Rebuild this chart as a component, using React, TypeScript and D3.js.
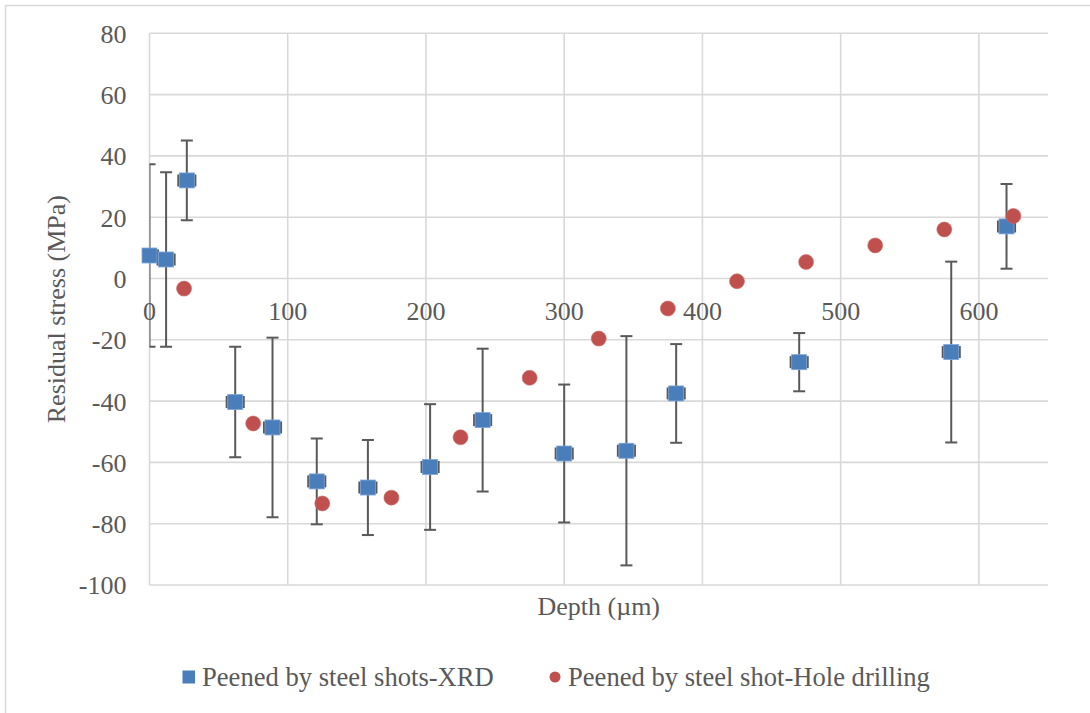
import React from "react";
import * as d3 from "d3";

// XRD series (blue squares) with vertical and horizontal error bars
const xrdDepth = [0, 12, 27, 62, 89, 121, 158, 203, 241, 300, 345, 381, 470, 580, 620];
const xrdStress = [7.5, 6.2, 32.0, -40.3, -48.6, -66.2, -68.2, -61.5, -46.2, -57.1, -56.2, -37.5, -27.3, -24.0, 17.0];
const xrdStressErr = [29.8, 28.5, 13.0, 18.0, 29.3, 14.0, 15.5, 20.5, 23.3, 22.5, 37.4, 16.1, 9.5, 29.5, 13.8];
const xrdDepthErr = [6, 6, 6, 6, 6, 6, 6, 6, 6, 6, 6, 6, 6, 6, 6];

// Hole drilling series (red circles)
const holeDepth = [25, 75, 125, 175, 225, 275, 325, 375, 425, 475, 525, 575, 625];
const holeStress = [-3.3, -47.3, -73.4, -71.5, -51.8, -32.4, -19.6, -9.8, -0.9, 5.4, 10.8, 16.0, 20.4];

const xTickValues = [0, 100, 200, 300, 400, 500, 600];
const yTickValues = [-100, -80, -60, -40, -20, 0, 20, 40, 60, 80];

const seriesNames = ["Peened by steel shots-XRD", "Peened by steel shot-Hole drilling"];
const xTitle = "Depth (µm)";
const yTitle = "Residual stress (MPa)";

const FONT = '"Times New Roman", "Liberation Serif", serif';
const TEXT = "#595959";
const GRID = "#d9d9d9";
const ERR = "#595959";
const BLUE = "#4a7ebb";
const RED = "#c0504d";

export default function App() {
  const W = 1090;
  const H = 713;
  const x = d3.scaleLinear().domain([0, 650]).range([149.5, 1048]);
  const y = d3.scaleLinear().domain([-100, 80]).range([585, 33.3]);
  const [x0, x1] = x.range();
  const [yb, yt] = y.range();
  const capW = 6;
  const sq = 15;

  return (
    <svg
      width={W}
      height={H}
      style={{ position: "absolute", left: 0, top: 0, display: "block" }}
      fontFamily={FONT}
    >
      <defs>
        <clipPath id="plotClip">
          <rect x={x0} y={yt} width={x1 - x0} height={yb - yt} />
        </clipPath>
      </defs>
      <rect x={0} y={0} width={W} height={H} fill="#fff" />
      <rect x={5.5} y={5.5} width={W + 20} height={H + 20} fill="#fff" stroke={GRID} strokeWidth={1.5} />

      {/* horizontal gridlines */}
      {yTickValues.map((v) => (
        <line key={"h" + v} x1={x0} x2={x1} y1={y(v)} y2={y(v)} stroke={GRID} strokeWidth={1.6} />
      ))}
      {/* vertical gridlines */}
      {xTickValues.map((v) => (
        <line key={"v" + v} x1={x(v)} x2={x(v)} y1={yt} y2={yb} stroke={GRID} strokeWidth={1.6} />
      ))}

      {/* y tick labels */}
      {yTickValues.map((v) => (
        <text key={"yl" + v} x={126.5} y={y(v) + 9.4} textAnchor="end" fontSize={26} fill={TEXT}>
          {v}
        </text>
      ))}
      {/* x tick labels (axis crosses at 0) */}
      {xTickValues.map((v) => (
        <text key={"xl" + v} x={x(v)} y={y(0) + 41.7} textAnchor="middle" fontSize={26} fill={TEXT}>
          {v}
        </text>
      ))}

      {/* axis titles */}
      <text x={(x0 + x1) / 2} y={615} textAnchor="middle" fontSize={26} fill={TEXT}>
        {xTitle}
      </text>
      <text
        transform={`translate(65,${(yt + yb) / 2}) rotate(-90)`}
        textAnchor="middle"
        fontSize={26}
        fill={TEXT}
      >
        {yTitle}
      </text>

      {/* error bars */}
      <g clipPath="url(#plotClip)" stroke={ERR} strokeWidth={2} fill="none">
        {xrdDepth.map((d, i) => {
          const cx = x(d);
          const cy = y(xrdStress[i]);
          const top = y(xrdStress[i] + xrdStressErr[i]);
          const bot = y(xrdStress[i] - xrdStressErr[i]);
          const left = x(d - xrdDepthErr[i]);
          const right = x(d + xrdDepthErr[i]);
          return (
            <g key={"e" + i}>
              <line x1={cx} x2={cx} y1={top} y2={bot} />
              <line x1={cx - capW} x2={cx + capW} y1={top} y2={top} />
              <line x1={cx - capW} x2={cx + capW} y1={bot} y2={bot} />
              <line x1={left} x2={right} y1={cy} y2={cy} />
              <line x1={left} x2={left} y1={cy - capW} y2={cy + capW} strokeWidth={2.5} />
              <line x1={right} x2={right} y1={cy - capW} y2={cy + capW} strokeWidth={2.5} />
            </g>
          );
        })}
      </g>

      {/* XRD markers */}
      {xrdDepth.map((d, i) => (
        <rect
          key={"s" + i}
          x={x(d) - sq / 2}
          y={y(xrdStress[i]) - sq / 2}
          width={sq}
          height={sq}
          fill={BLUE}
          stroke="#7ea6d8"
          strokeWidth={0.8}
        />
      ))}

      {/* Hole drilling markers */}
      {holeDepth.map((d, i) => (
        <circle key={"c" + i} cx={x(d)} cy={y(holeStress[i])} r={7.5} fill={RED} stroke="#c9706d" strokeWidth={0.6} />
      ))}

      {/* legend */}
      <rect x={182.5} y={670.5} width={12.5} height={13} fill={BLUE} />
      <text x={202} y={686} fontSize={26.6} fill={TEXT}>
        {seriesNames[0]}
      </text>
      <circle cx={555} cy={677} r={5.5} fill={RED} />
      <text x={568} y={686} fontSize={26.6} fill={TEXT}>
        {seriesNames[1]}
      </text>
    </svg>
  );
}
